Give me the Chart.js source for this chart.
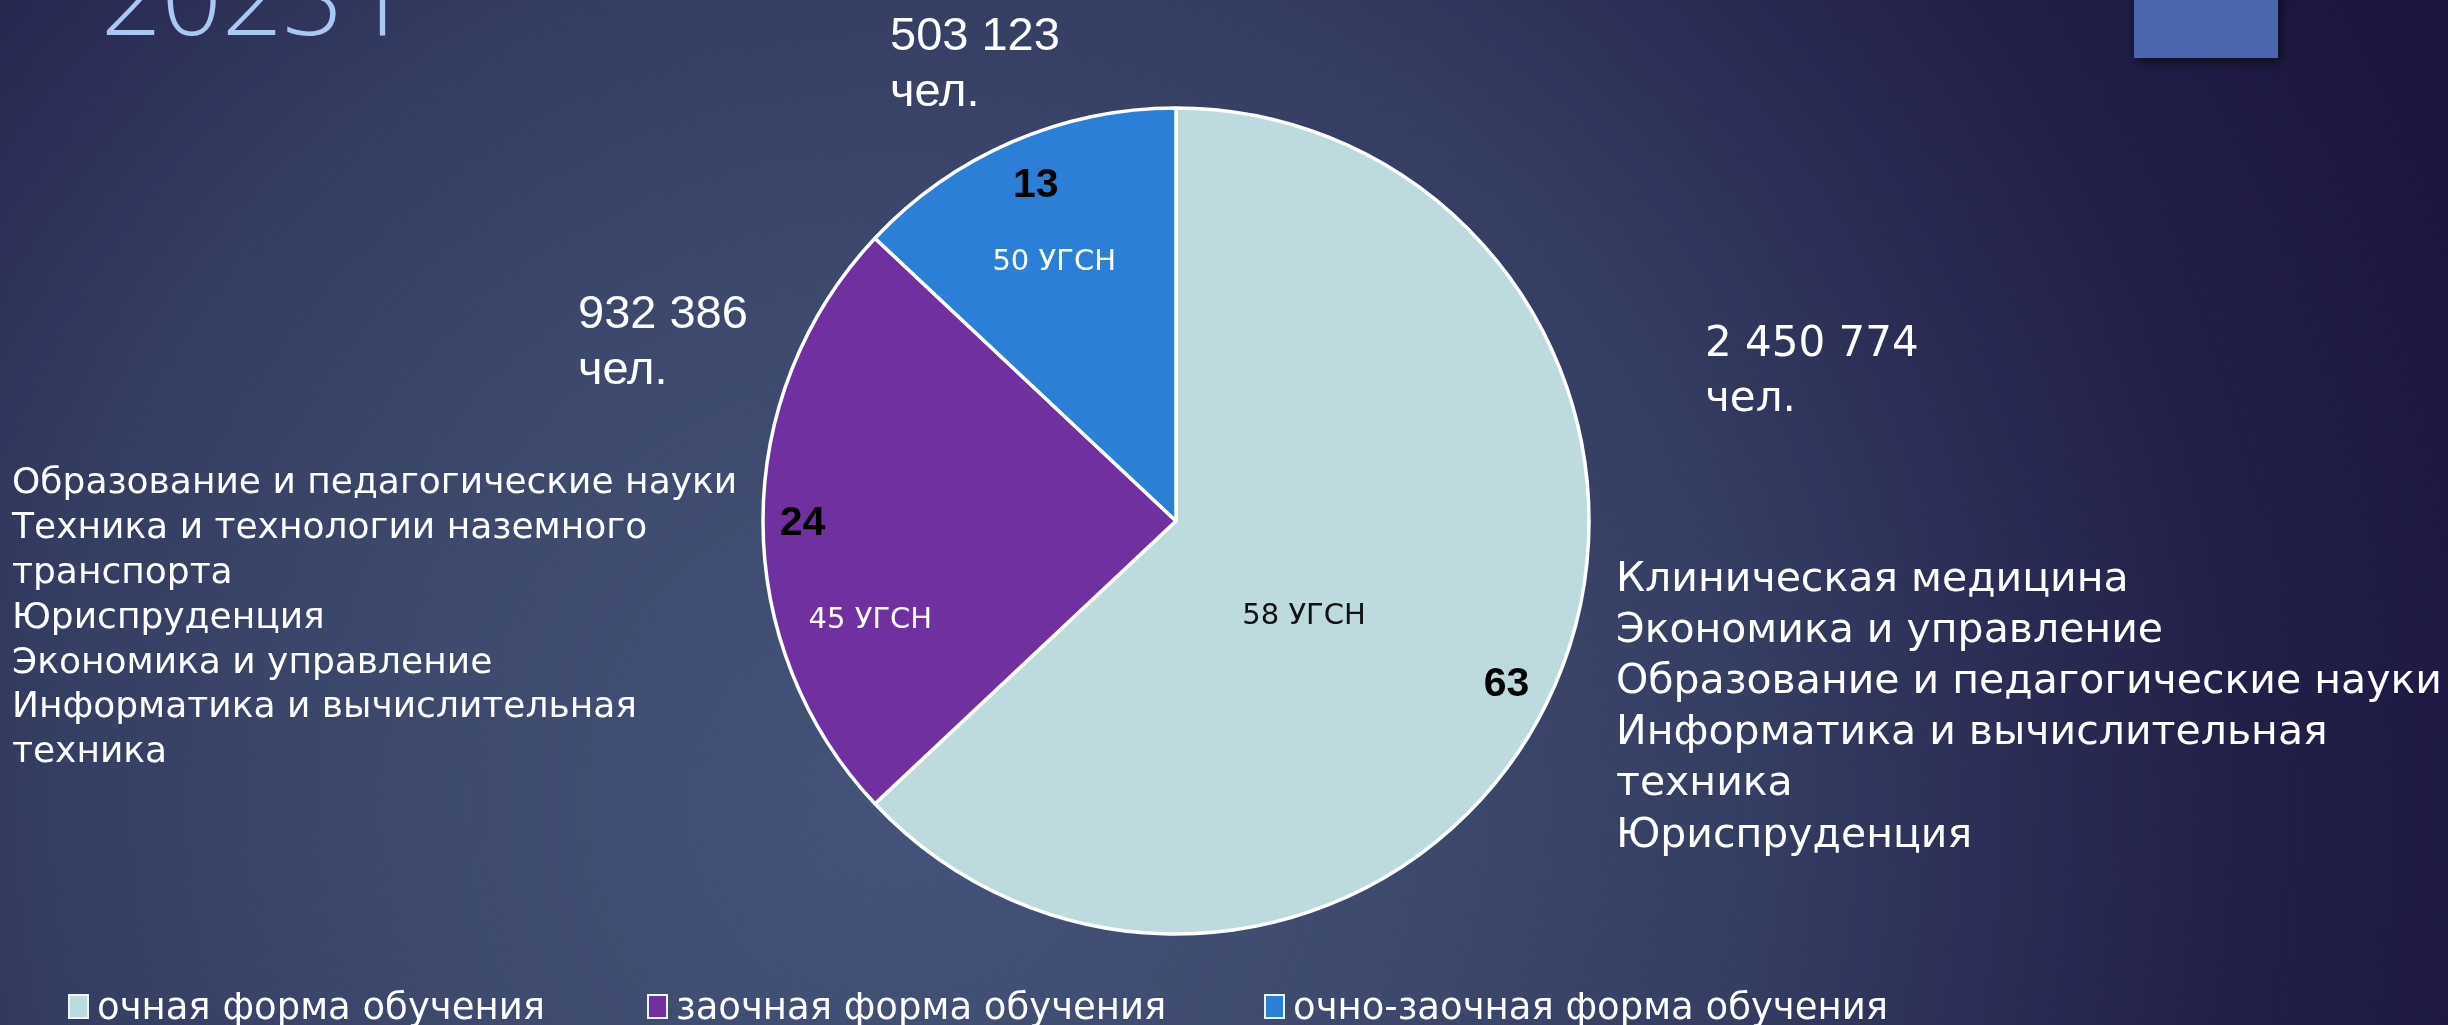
<!DOCTYPE html>
<html lang="ru">
<head>
<meta charset="utf-8">
<title>2023 г</title>
<script src="https://cdn.jsdelivr.net/npm/chart.js@4.4.1/dist/chart.umd.min.js"></script>
<style>
  html, body { margin: 0; padding: 0; width: 2448px; height: 1025px; overflow: hidden; }
  body {
    background: radial-gradient(circle 1650px at 900px 800px,
      #44537a 0%, #3d4a6d 30%, #343d62 52%, #2a2c54 68%, #211f48 82%, #1c1740 100%);
  }
  canvas { display: block; }
</style>
</head>
<body>
<canvas id="chart" width="2448" height="1025"></canvas>
<script>
// ---------------- data ----------------
const titleText = '2023 г';
const categories = ['очная форма обучения', 'заочная форма обучения', 'очно-заочная форма обучения'];
const shares = [63, 24, 13];
const studentTotals = ['2 450 774', '932 386', '503 123'];
const totalUnit = 'чел.';
const ugsnLabels = ['58 УГСН', '45 УГСН', '50 УГСН'];
const topFieldsFullTime = [
  'Клиническая медицина',
  'Экономика и управление',
  'Образование и педагогические науки',
  'Информатика и вычислительная техника',
  'Юриспруденция'
];
const topFieldsExtramural = [
  'Образование и педагогические науки',
  'Техника и технологии наземного транспорта',
  'Юриспруденция',
  'Экономика и управление',
  'Информатика и вычислительная техника'
];

// ---------------- styles / layout ----------------
const sliceColors = ['#bddbdf', '#7030a0', '#2b7fd6'];
const CG = '"DejaVu Sans", "Noto Sans", sans-serif';      // stand-in for Century Gothic
const AR = '"Liberation Sans", Arial, sans-serif';

const layout = {
  title: { x: 101, y: 35, font: '300 106px "Open Sans", "DejaVu Sans", sans-serif', color: '#a9c8f4' },
  badge: { x: 2134, y: -10, w: 144, h: 68, color: '#4a67ae' },
  totals: [
    { x: 1705, y: 356, lh: 55, font: '42px ' + CG },
    { x: 578,  y: 328, lh: 56, font: '47px ' + AR },
    { x: 890,  y: 50,  lh: 56, font: '47px ' + AR }
  ],
  lists: [
    { items: topFieldsFullTime,   x: 1616, y: 580, lh: 51.2, maxW: 860, font: '41px ' + CG },
    { items: topFieldsExtramural, x: 12,   y: 484, lh: 44.8, maxW: 760, font: '36px ' + CG }
  ],
  pctRadius: 0.885,
  pctNudge: [[-5, 19], [-8, 3], [5, 0]],
  pctFont: 'bold 41px ' + AR,
  ugsnOffsets: [[0.31, 0.23], [-0.74, 0.24], [-0.295, -0.625]],
  ugsnColors: ['#111111', '#ffffff', '#ffffff'],
  ugsnFont: '29px ' + CG,
  legend: { xs: [68, 647, 1264], y: 994, boxW: 21, boxH: 25, gap: 8, textY: 1009, font: '37px ' + CG }
};

function wrapLines(ctx, items, maxW) {
  const out = [];
  items.forEach(item => {
    let line = '';
    item.split(' ').forEach(w => {
      const test = line ? line + ' ' + w : w;
      if (line && ctx.measureText(test).width > maxW) { out.push(line); line = w; }
      else line = test;
    });
    out.push(line);
  });
  return out;
}

const slideDecor = {
  id: 'slideDecor',
  beforeDraw(chart) {
    const ctx = chart.ctx;
    ctx.save();
    // decorative badge top right
    const b = layout.badge;
    ctx.shadowColor = 'rgba(0,0,0,0.55)';
    ctx.shadowBlur = 10;
    ctx.shadowOffsetX = 3;
    ctx.shadowOffsetY = 4;
    ctx.fillStyle = b.color;
    ctx.fillRect(b.x, b.y, b.w, b.h);
    ctx.restore();

    ctx.save();
    ctx.fillStyle = layout.title.color;
    ctx.font = layout.title.font;
    ctx.textBaseline = 'alphabetic';
    ctx.fillText(titleText, layout.title.x, layout.title.y);
    ctx.restore();
  },
  afterDatasetsDraw(chart) {
    const ctx = chart.ctx;
    const meta = chart.getDatasetMeta(0);
    ctx.save();
    ctx.textAlign = 'center';
    ctx.textBaseline = 'middle';
    meta.data.forEach((arc, i) => {
      const p = arc.getProps(['x', 'y', 'startAngle', 'endAngle', 'outerRadius'], true);
      const mid = (p.startAngle + p.endAngle) / 2;
      const r = p.outerRadius;
      const n = layout.pctNudge[i];
      // value label (inside end)
      ctx.font = layout.pctFont;
      ctx.fillStyle = '#000000';
      ctx.fillText(String(shares[i]),
        p.x + Math.cos(mid) * r * layout.pctRadius + n[0],
        p.y + Math.sin(mid) * r * layout.pctRadius + n[1]);
      // УГСН label
      const o = layout.ugsnOffsets[i];
      ctx.font = layout.ugsnFont;
      ctx.fillStyle = layout.ugsnColors[i];
      ctx.fillText(ugsnLabels[i], p.x + o[0] * r, p.y + o[1] * r);
    });
    ctx.restore();
  },
  afterDraw(chart) {
    const ctx = chart.ctx;
    ctx.save();
    ctx.fillStyle = '#ffffff';
    ctx.textAlign = 'left';
    ctx.textBaseline = 'alphabetic';
    // totals
    layout.totals.forEach((t, i) => {
      ctx.font = t.font;
      ctx.fillText(studentTotals[i], t.x, t.y);
      ctx.fillText(totalUnit, t.x, t.y + t.lh);
    });
    // top fields lists
    ctx.textBaseline = 'middle';
    layout.lists.forEach(l => {
      ctx.font = l.font;
      wrapLines(ctx, l.items, l.maxW).forEach((line, k) => {
        ctx.fillText(line, l.x, l.y + k * l.lh);
      });
    });
    // legend
    const lg = layout.legend;
    ctx.font = lg.font;
    categories.forEach((c, i) => {
      const x = lg.xs[i];
      ctx.fillStyle = sliceColors[i];
      ctx.fillRect(x, lg.y, lg.boxW, lg.boxH);
      ctx.strokeStyle = '#eef3f8';
      ctx.lineWidth = 2;
      ctx.strokeRect(x + 1, lg.y + 1, lg.boxW - 2, lg.boxH - 2);
      ctx.fillStyle = '#ffffff';
      ctx.fillText(c, x + lg.boxW + lg.gap, lg.textY);
    });
    ctx.restore();
  }
};

new Chart(document.getElementById('chart'), {
  type: 'pie',
  data: {
    labels: categories,
    datasets: [{
      data: shares,
      backgroundColor: sliceColors,
      borderColor: '#ffffff',
      borderWidth: 3.5,
      radius: 413
    }]
  },
  options: {
    responsive: false,
    animation: false,
    layout: { padding: { left: 0, right: 96, top: 17, bottom: 0 } },
    plugins: {
      legend: { display: false },
      tooltip: { enabled: false },
      title: { display: false }
    }
  },
  plugins: [slideDecor]
});
</script>
</body>
</html>
